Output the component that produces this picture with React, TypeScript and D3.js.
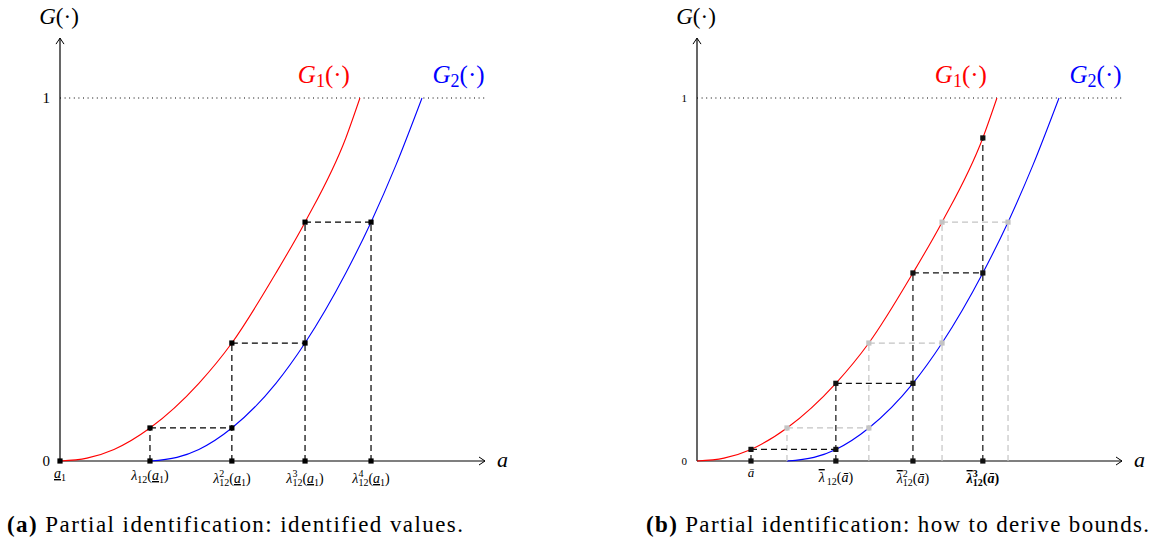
import React from "react";
import * as d3 from "d3";

// Curve knots (a, G(a)) for the two distribution functions
const G1_A = [0, 0.9, 1.8, 3, 4.63, 5.73, 7.2, 8.17, 9.53, 10];
const G1_V = [0, 0.008, 0.032, 0.091, 0.214, 0.325, 0.518, 0.658, 0.89, 1];
const G2_A = [3, 3.9, 4.63, 5.73, 7.2, 8.17, 9.53, 10.37, 11.2, 12.07];
const G2_V = [0, 0.01, 0.032, 0.091, 0.214, 0.325, 0.518, 0.658, 0.815, 1];

// Panel (a): identified iterates λ^k_12(a_1) and the matching G levels
const ID_LAMBDA = [0, 3, 5.73, 8.17, 10.37];
const ID_LEVELS = [0, 0.091, 0.325, 0.658];
const ID_SUPS = ["", "", "2", "3", "4"];

// Panel (b): iterates from ā and their levels
const BAR_LAMBDA = [1.8, 4.63, 7.2, 9.53];
const BAR_LEVELS = [0.032, 0.214, 0.518, 0.89];
const BAR_SUPS = ["", "", "2", "3"];

const X_MAX = 14.17;
const Y_TOP = 1.165;

const SERIF = '"Liberation Serif", "DejaVu Serif", serif';
const FONT = { fontFamily: SERIF } as React.CSSProperties;
const W = 1156;
const H = 550;

type Scales = { x: d3.ScaleLinear<number, number>; y: d3.ScaleLinear<number, number> };

function curvePath(s: Scales, as: number[], vs: number[]) {
  const pts = as.map((a, i) => [a, vs[i]] as [number, number]);
  return d3
    .line<[number, number]>()
    .x((d) => s.x(d[0]))
    .y((d) => s.y(d[1]))
    .curve(d3.curveMonotoneX)(pts) as string;
}

function Square({ x, y, fill }: { x: number; y: number; fill: string }) {
  return <rect x={x - 2.6} y={y - 2.6} width={5.2} height={5.2} fill={fill} />;
}

function Frame({ s, big }: { s: Scales; big: boolean }) {
  const x0 = s.x(0);
  const y0 = s.y(0);
  const yt = s.y(Y_TOP);
  const xr = s.x(X_MAX);
  const tickSize = big ? 15 : 11;
  return (
    <g>
      {/* level 1 reference */}
      <line x1={x0} x2={xr} y1={s.y(1)} y2={s.y(1)} stroke="#000" strokeWidth={1} strokeDasharray="1 3.6" />
      {/* axes with open arrow heads */}
      <line x1={x0} x2={x0} y1={y0} y2={yt} stroke="#000" strokeWidth={1.2} />
      <path d={`M${x0 - 4},${yt + 6} L${x0},${yt} L${x0 + 4},${yt + 6}`} fill="none" stroke="#000" strokeWidth={1} />
      <line x1={x0} x2={xr} y1={y0} y2={y0} stroke="#000" strokeWidth={1.2} />
      <path d={`M${xr - 6},${y0 - 4} L${xr},${y0} L${xr - 6},${y0 + 4}`} fill="none" stroke="#000" strokeWidth={1} />
      <text x={x0 - 10} y={y0} dy="0.35em" textAnchor="end" fontSize={tickSize} style={FONT}>0</text>
      <text x={x0 - 10} y={s.y(1)} dy="0.35em" textAnchor="end" fontSize={tickSize} style={FONT}>1</text>
      <text x={x0 - 1} y={s.y(1.203)} textAnchor="middle" fontSize={23} style={FONT}>
        <tspan fontStyle="italic">G</tspan>(·)
      </text>
      <text x={s.x(14.57)} y={y0 + 6} fontSize={22} fontStyle="italic" style={FONT}>a</text>
      <text x={s.x(7.93)} y={s.y(1.04)} fontSize={25} style={FONT} fill="#ff0000">
        <tspan fontStyle="italic">G</tspan>
        <tspan fontSize={18} dy={4}>1</tspan>
        <tspan dy={-4}>(·)</tspan>
      </text>
      <text x={s.x(12.42)} y={s.y(1.04)} fontSize={25} style={FONT} fill="#0000ff">
        <tspan fontStyle="italic">G</tspan>
        <tspan fontSize={18} dy={4}>2</tspan>
        <tspan dy={-4}>(·)</tspan>
      </text>
      <path d={curvePath(s, G1_A, G1_V)} fill="none" stroke="#ff0000" strokeWidth={1.1} />
      <path d={curvePath(s, G2_A, G2_V)} fill="none" stroke="#0000ff" strokeWidth={1.1} />
    </g>
  );
}

// Staircase of dashed segments between the two curves
function Staircase({ s, lambdas, levels, color, axisMarks }: {
  s: Scales; lambdas: number[]; levels: number[]; color: string; axisMarks: boolean;
}) {
  const y0 = s.y(0);
  const els: React.ReactNode[] = [];
  lambdas.forEach((lam, k) => {
    const top = k < levels.length ? levels[k] : levels[levels.length - 1];
    if (top > 0) {
      els.push(
        <line key={`v${k}`} x1={s.x(lam)} x2={s.x(lam)} y1={y0} y2={s.y(top)} stroke={color} strokeWidth={1.2} strokeDasharray="6 4" />
      );
    }
    if (k < levels.length && k + 1 < lambdas.length && levels[k] > 0) {
      els.push(
        <line key={`h${k}`} x1={s.x(lam)} x2={s.x(lambdas[k + 1])} y1={s.y(levels[k])} y2={s.y(levels[k])} stroke={color} strokeWidth={1.2} strokeDasharray="6 4" />
      );
    }
  });
  lambdas.forEach((lam, k) => {
    if (k < levels.length && levels[k] > 0) els.push(<Square key={`r${k}`} x={s.x(lam)} y={s.y(levels[k])} fill={color} />);
    if (k > 0 && levels[k - 1] > 0) els.push(<Square key={`b${k}`} x={s.x(lam)} y={s.y(levels[k - 1])} fill={color} />);
    if (axisMarks) els.push(<Square key={`a${k}`} x={s.x(lam)} y={y0} fill={color} />);
  });
  return <g>{els}</g>;
}

function IdLabel({ x, y, sup, first }: { x: number; y: number; sup: string; first: boolean }) {
  if (first) {
    return (
      <text x={x} y={y - 2} textAnchor="middle" fontSize={14} style={FONT}>
        <tspan fontStyle="italic" textDecoration="underline">a</tspan>
        <tspan fontSize={10} dy={3}>1</tspan>
      </text>
    );
  }
  return (
    <text x={x} y={sup ? y + 3 : y} textAnchor="middle" fontSize={14} style={FONT}>
      <tspan fontStyle="italic">λ</tspan>
      {sup ? <tspan fontSize={10} dy={-6}>{sup}</tspan> : null}
      <tspan fontSize={10} dx={sup ? -5 : 0} dy={sup ? 9 : 3}>12</tspan>
      <tspan dy={-3}>(</tspan>
      <tspan fontStyle="italic" textDecoration="underline">a</tspan>
      <tspan fontSize={10} dy={3}>1</tspan>
      <tspan dy={-3}>)</tspan>
    </text>
  );
}

function BarLabel({ x, y, sup, first, bold }: { x: number; y: number; sup: string; first: boolean; bold: boolean }) {
  if (first) {
    return (
      <text x={x} y={y - 3} textAnchor="middle" fontSize={13} fontStyle="italic" style={FONT}>ā</text>
    );
  }
  return (
    <text x={x} y={sup ? y + 3 : y + 2} textAnchor="middle" fontSize={14} style={FONT} fontWeight={bold ? "bold" : "normal"}>
      <tspan fontStyle="italic" textDecoration="overline">λ</tspan>
      {sup ? <tspan fontSize={10} dy={-6}>{sup}</tspan> : null}
      <tspan fontSize={10} dx={sup ? -5 : 2} dy={sup ? 9 : 3}>12</tspan>
      <tspan dy={-3}>(</tspan>
      <tspan fontStyle="italic">ā</tspan>
      <tspan>)</tspan>
    </text>
  );
}

function makeScales(originX: number): Scales {
  return {
    x: d3.scaleLinear().domain([0, X_MAX]).range([originX, originX + 425]),
    y: d3.scaleLinear().domain([0, 1]).range([461, 98]),
  };
}

export default function App() {
  const sa = makeScales(60);
  const sb = makeScales(697);
  const labelY = 480;
  return (
    <svg width={W} height={H} style={{ display: "block", position: "absolute", left: 0, top: 0, fontFamily: SERIF }}>
      <rect width={W} height={H} fill="#fff" />

      {/* (a) identified values */}
      <Frame s={sa} big={true} />
      <Staircase s={sa} lambdas={ID_LAMBDA} levels={ID_LEVELS} color="#000" axisMarks={true} />
      {ID_LAMBDA.map((lam, k) => (
        <IdLabel key={k} x={sa.x(lam)} y={labelY} sup={ID_SUPS[k]} first={k === 0} />
      ))}

      {/* (b) deriving bounds */}
      <Frame s={sb} big={false} />
      <Staircase s={sb} lambdas={ID_LAMBDA.slice(1)} levels={ID_LEVELS.slice(1)} color="#c4c4c4" axisMarks={false} />
      <Staircase s={sb} lambdas={BAR_LAMBDA} levels={BAR_LEVELS} color="#111" axisMarks={true} />
      {BAR_LAMBDA.map((lam, k) => (
        <BarLabel key={k} x={sb.x(lam)} y={labelY} sup={BAR_SUPS[k]} first={k === 0} bold={k === BAR_LAMBDA.length - 1} />
      ))}

      <text x={7} y={532} fontSize={23} style={FONT} textLength={456} lengthAdjust="spacing">
        <tspan fontWeight="bold">(a)</tspan> Partial identification: identified values.
      </text>
      <text x={646} y={532} fontSize={23} style={FONT} textLength={503} lengthAdjust="spacing">
        <tspan fontWeight="bold">(b)</tspan> Partial identification: how to derive bounds.
      </text>
    </svg>
  );
}
